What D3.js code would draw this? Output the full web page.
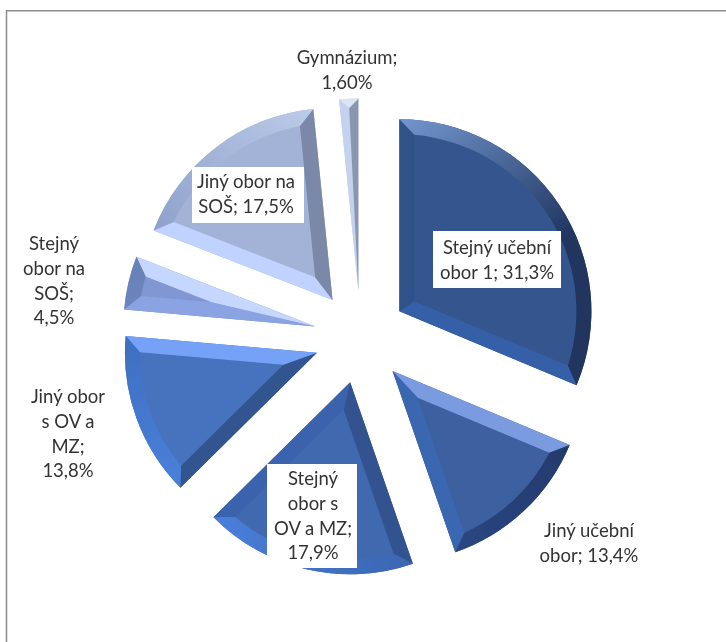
<!DOCTYPE html>
<html>
<head>
<meta charset="utf-8">
<script src="https://cdn.jsdelivr.net/npm/d3@7"></script>
<style>
html,body{margin:0;padding:0;background:#fff;}
svg{display:block;}
text{font-family:Lato,"Open Sans",sans-serif;font-size:18.5px;fill:#333;}
</style>
</head>
<body>
<svg id="c" width="726" height="642"></svg>
<script>
const categories = ["Stejný učební obor 1","Jiný učební obor","Stejný obor s OV a MZ","Jiný obor s OV a MZ","Stejný obor na SOŠ","Jiný obor na SOŠ","Gymnázium"];
const values = [31.3,13.4,17.9,13.8,4.5,17.5,1.6];
const labelLines = [
  ["Stejný učební","obor 1; 31,3%"],
  ["Jiný učební","obor; 13,4%"],
  ["Stejný","obor s","OV a MZ;","17,9%"],
  ["Jiný obor","s OV a","MZ;","13,8%"],
  ["Stejný","obor na","SOŠ;","4,5%"],
  ["Jiný obor na","SOŠ; 17,5%"],
  ["Gymnázium;","1,60%"]
];
// styling, separate from the data
const topColors   = ["#34558f","#3d60a0","#4169b0","#4672be","#8097d4","#a3b3d7","#c5d2ee"];
const startColors = ["#2f5289","#7a9be0","#30538f","#305490","#8ba3e2","#c0d2ff","#c5d2ee"];
const endColors   = ["#355ea6","#3a66b0","#3a64ad","#74a2f6","#c5d6ff","#7b88a8","#8a96ad"];
const arcFrom     = ["#7396cf","#24396b","#3a66b0","#4a80dc","#6c85bd","#8fa1cc","#dbe4f7"];
const arcTo       = ["#20355f","#2a4783","#4a7fdc","#3f6fbf","#6680b8","#bccbe8","#dbe4f7"];
const arcStop     = [0.6,1,1,1,1,1,1];
const labelAnchors = [[497,248],[589,531],[313,479],[68,397],[54,244],[246,182],[347,58]];
const labelBoxes = [[433,231,128,57],null,[267,464,90,104],null,null,[192,167,112,56],null];

const W = 726, H = 642, cx = 360.7, cy = 337, R = 192, explode = 46.5, bevel = 15, lineH = 24.6;
const svg = d3.select("#c");

svg.append("path")
  .attr("d", d3.line()([[6.5,H],[6.5,10.7],[W,10.7]]))
  .attr("fill","none").attr("stroke","#8c8c8c").attr("stroke-width",1.5);

const pie = d3.pie().sort(null).value(d => d);
const arcs = pie(values);
const defs = svg.append("defs");
defs.append("filter").attr("id","soft").append("feGaussianBlur").attr("stdDeviation",0.45);
const polar = (a, r) => [r*Math.sin(a), -r*Math.cos(a)];
const arcGen = d3.arc().innerRadius(0).outerRadius(R);
const layer = svg.append("g").attr("filter","url(#soft)");

arcs.forEach((d,i) => {
  const a0 = d.startAngle, a1 = d.endAngle, mid = (a0+a1)/2, h = (a1-a0)/2;
  const off = polar(mid, explode);
  const g = layer.append("g").attr("transform",`translate(${cx+off[0]},${cy+off[1]})`);

  g.append("path").attr("d", arcGen(d)).attr("fill", topColors[i]);

  // inset corners of the top face
  const apexDist = bevel/Math.sin(h);
  const degenerate = apexDist >= R - bevel;
  let innerApex, inA0, inA1, innerR;
  if (degenerate) {
    const p = R/(1+Math.sin(h));
    innerApex = polar(mid, p); inA0 = inA1 = mid; innerR = p;
  } else {
    innerR = R - bevel;
    const da = Math.asin(bevel/innerR);
    innerApex = polar(mid, apexDist); inA0 = a0+da; inA1 = a1-da;
  }
  const pS = polar(a0,R), pE = polar(a1,R), iS = polar(inA0,innerR), iE = polar(inA1,innerR);
  const poly = pts => { const p=d3.path(); pts.forEach((q,k)=>k?p.lineTo(q[0],q[1]):p.moveTo(q[0],q[1])); p.closePath(); return p.toString(); };

  g.append("path").attr("d", poly([[0,0],pS,iS,innerApex])).attr("fill", startColors[i]);
  g.append("path").attr("d", poly([[0,0],innerApex,iE,pE])).attr("fill", endColors[i]);

  const gid = "arcg"+i;
  const gr = defs.append("linearGradient").attr("id",gid).attr("gradientUnits","userSpaceOnUse")
    .attr("x1",pS[0]).attr("y1",pS[1]).attr("x2",pE[0]).attr("y2",pE[1]);
  gr.append("stop").attr("offset",0).attr("stop-color",arcFrom[i]);
  gr.append("stop").attr("offset",arcStop[i]).attr("stop-color",arcTo[i]);
  const rim = d3.path();
  rim.moveTo(pS[0],pS[1]);
  rim.arc(0,0,R,a0-Math.PI/2,a1-Math.PI/2);
  rim.lineTo(iE[0],iE[1]);
  if (!degenerate) rim.arc(0,0,innerR,inA1-Math.PI/2,inA0-Math.PI/2,true);
  rim.closePath();
  g.append("path").attr("d", rim.toString()).attr("fill",`url(#${gid})`);
});

labelLines.forEach((lines,i) => {
  const b = labelBoxes[i];
  if (b) svg.append("rect").attr("x",b[0]).attr("y",b[1]).attr("width",b[2]).attr("height",b[3]).attr("fill","#fff");
  const t = svg.append("text").attr("text-anchor","middle");
  lines.forEach((l,k) => t.append("tspan")
    .attr("x",labelAnchors[i][0]).attr("y",labelAnchors[i][1]+k*lineH).attr("dy","0.35em").text(l));
});
</script>
</body>
</html>
